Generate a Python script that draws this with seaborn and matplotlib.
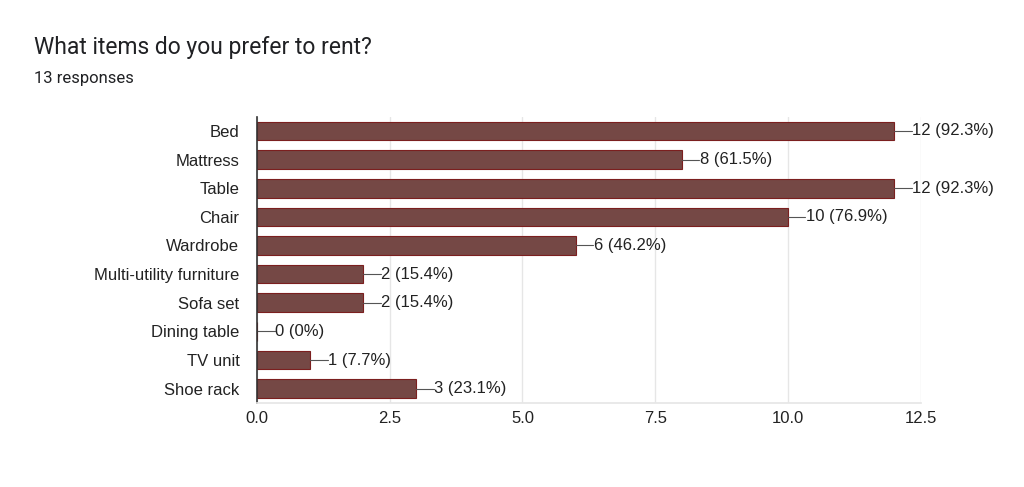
import pandas as pd
import seaborn as sns
import matplotlib.pyplot as plt

items = ["Bed", "Mattress", "Table", "Chair", "Wardrobe", "Multi-utility furniture",
         "Sofa set", "Dining table", "TV unit", "Shoe rack"]
counts = [12, 8, 12, 10, 6, 2, 2, 0, 1, 3]
pct_labels = ["92.3%", "61.5%", "92.3%", "76.9%", "46.2%", "15.4%", "15.4%", "0%", "7.7%", "23.1%"]
x_ticks = [0.0, 2.5, 5.0, 7.5, 10.0, 12.5]

df = pd.DataFrame({"item": items, "count": counts})

sns.set_theme(style="white")
plt.rcParams["font.family"] = ["Liberation Sans", "DejaVu Sans"]

fig = plt.figure(figsize=(10.24, 4.87), dpi=100)
ax = fig.add_axes([0.251, 0.1725, 0.648, 0.588])

sns.barplot(data=df, x="count", y="item", orient="h", color="#754845",
            edgecolor="#7b1f1f", linewidth=0.8, width=0.65, ax=ax, saturation=1)

ax.set_xlim(0, 12.5)
ax.set_ylim(9.5, -0.5)
ax.set_xticks(x_ticks)
ax.set_xticklabels([f"{t:.1f}" for t in x_ticks], fontsize=12, color="#222222")
ax.tick_params(axis="y", labelsize=12, colors="#222222", length=0, pad=12.7)
ax.tick_params(axis="x", length=0, pad=6)
ax.set_xlabel("")
ax.set_ylabel("")
ax.grid(axis="x", color="#e6e6e6", linewidth=1)
ax.set_axisbelow(True)
for s in ["top", "right"]:
    ax.spines[s].set_visible(False)
ax.spines["bottom"].set_color("#e6e6e6")
ax.spines["left"].set_color("#333333")
ax.spines["left"].set_linewidth(1.2)

for i, (c, p) in enumerate(zip(counts, pct_labels)):
    ax.plot([c, c + 0.33], [i, i], color="#555555", linewidth=0.8)
    ax.text(c + 0.34, i, f"{c} ({p})", va="center", ha="left", fontsize=12, color="#222222")

fig.text(0.033, 0.89, "What items do you prefer to rent?", fontsize=16.5,
         color="#202124", family=["Roboto", "DejaVu Sans"])
fig.text(0.033, 0.83, "13 responses", fontsize=12,
         color="#202124", family=["Roboto", "DejaVu Sans"])

fig.savefig("out.png", dpi=100, facecolor="white")
